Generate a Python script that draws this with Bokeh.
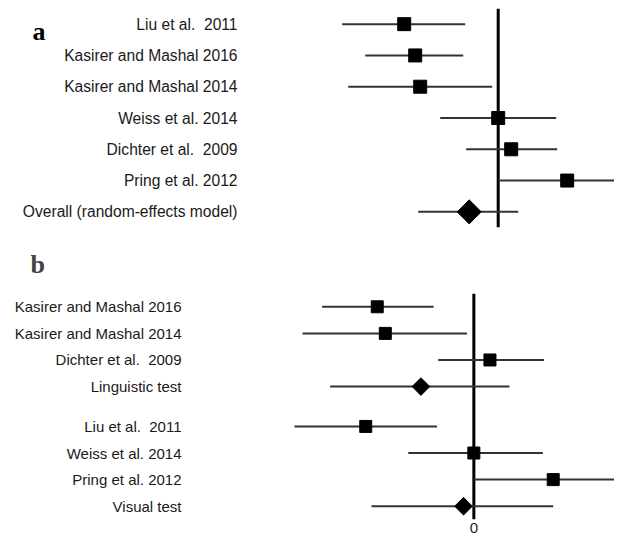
import math
from bokeh.plotting import figure
from bokeh.models import FactorRange, Span, FixedTicker, ColumnDataSource
from bokeh.layouts import column
from bokeh.core.properties import value
from bokeh.embed import file_html
from bokeh.resources import INLINE

NB = "\u00a0 "  # double space that survives SVG whitespace collapsing

# ---------------- data: panel a ----------------
studies_a = ["Liu et al." + NB + "2011", "Kasirer and Mashal 2016", "Kasirer and Mashal 2014",
             "Weiss et al. 2014", "Dichter et al." + NB + "2009", "Pring et al. 2012"]
est_a = [-0.94, -0.83, -0.78, 0.00, 0.13, 0.69]
lo_a = [-1.56, -1.33, -1.50, -0.58, -0.32, 0.00]
hi_a = [-0.33, -0.35, -0.06, 0.58, 0.59, 1.45]
overall_label_a = "Overall (random-effects model)"
overall_a = [-0.29, -0.80, 0.20]  # estimate, lower, upper

# ---------------- data: panel b ----------------
ling_studies = ["Kasirer and Mashal 2016", "Kasirer and Mashal 2014", "Dichter et al." + NB + "2009"]
ling_est = [-0.84, -0.77, 0.14]
ling_lo = [-1.32, -1.49, -0.31]
ling_hi = [-0.35, -0.06, 0.61]
ling_label = "Linguistic test"
ling_summary = [-0.46, -1.25, 0.31]

vis_studies = ["Liu et al." + NB + "2011", "Weiss et al. 2014", "Pring et al. 2012"]
vis_est = [-0.94, 0.00, 0.69]
vis_lo = [-1.56, -0.57, 0.00]
vis_hi = [-0.32, 0.60, 1.45]
vis_label = "Visual test"
vis_summary = [-0.09, -0.89, 0.69]

x_ticks_b = [0]

LABEL_FONT = "Liberation Sans"
LETTER_FONT = "Liberation Serif"
BAR_COLOR = "#333333"

# ================= panel a =================
rows_a = studies_a + [overall_label_a]
pa = figure(width=614, height=229, x_range=(-4.977, 1.163),
            y_range=FactorRange(factors=list(reversed(rows_a))),
            x_axis_type=None, y_axis_type=None,
            output_backend="svg", toolbar_location=None,
            min_border_left=0, min_border_right=0, min_border_top=8, min_border_bottom=2)
pa.outline_line_color = None

zero_a = Span(location=0, dimension="height", line_color="black", line_width=3, level="underlay")
pa.add_layout(zero_a)

src_a = ColumnDataSource(dict(y=studies_a, est=est_a, lo=lo_a, hi=hi_a))
pa.segment(x0="lo", x1="hi", y0="y", y1="y", source=src_a, line_color=BAR_COLOR, line_width=2)
pa.scatter(x="est", y="y", source=src_a, marker="square", size=13, color="black")

src_oa = ColumnDataSource(dict(y=[overall_label_a], est=[overall_a[0]], lo=[overall_a[1]], hi=[overall_a[2]]))
pa.segment(x0="lo", x1="hi", y0="y", y1="y", source=src_oa, line_color=BAR_COLOR, line_width=2)
pa.scatter(x="est", y="y", source=src_oa, marker="square", angle=math.pi / 4, size=17, color="black")

LABEL_X_A = -2.607
pa.text(x=[LABEL_X_A] * len(rows_a), y=rows_a, text=rows_a, text_align="right",
        text_baseline="middle", text_font=value(LABEL_FONT), text_font_size="15.6px",
        text_color="#1a1a1a")
pa.text(x=[-4.657], y=[rows_a[0]], text=["a"], text_align="left", text_baseline="alphabetic",
        y_offset=7, text_font=value(LETTER_FONT), text_font_style="bold",
        text_font_size="26px", text_color="black")

# ================= panel b =================
rows_b = ([("L", s) for s in ling_studies] + [("L", ling_label)] +
          [("V", s) for s in vis_studies] + [("V", vis_label)])
pb = figure(width=614, height=310, x_range=(-4.116, 1.223),
            y_range=FactorRange(factors=list(reversed(rows_b)), group_padding=0.5),
            y_axis_type=None, title="b",
            output_backend="svg", toolbar_location=None,
            min_border_left=0, min_border_right=0, min_border_top=64, min_border_bottom=20)
pb.outline_line_color = None
pb.xgrid.visible = False
pb.title.text_font = LETTER_FONT
pb.title.text_font_style = "bold"
pb.title.text_font_size = "26px"
pb.title.align = "left"
pb.title.offset = 30
pb.title.standoff = 30

xa = pb.xaxis[0]
xa.ticker = FixedTicker(ticks=x_ticks_b)
xa.axis_line_color = None
xa.major_tick_line_color = None
xa.minor_tick_line_color = None
xa.major_tick_out = 0
xa.major_tick_in = 0
xa.major_label_standoff = 3
xa.major_label_text_font = LABEL_FONT
xa.major_label_text_font_size = "15px"
xa.major_label_text_color = "#1a1a1a"

zero_b = Span(location=0, dimension="height", line_color="black", line_width=3, level="underlay")
pb.add_layout(zero_b)

src_b = ColumnDataSource(dict(
    y=[("L", s) for s in ling_studies] + [("V", s) for s in vis_studies],
    est=ling_est + vis_est, lo=ling_lo + vis_lo, hi=ling_hi + vis_hi))
pb.segment(x0="lo", x1="hi", y0="y", y1="y", source=src_b, line_color=BAR_COLOR, line_width=2)
pb.scatter(x="est", y="y", source=src_b, marker="square", size=12, color="black")

src_sb = ColumnDataSource(dict(
    y=[("L", ling_label), ("V", vis_label)],
    est=[ling_summary[0], vis_summary[0]],
    lo=[ling_summary[1], vis_summary[1]],
    hi=[ling_summary[2], vis_summary[2]]))
pb.segment(x0="lo", x1="hi", y0="y", y1="y", source=src_sb, line_color=BAR_COLOR, line_width=2)
pb.scatter(x="est", y="y", source=src_sb, marker="square", angle=math.pi / 4, size=12.5, color="black")

LABEL_X_B = -2.542
pb.text(x=[LABEL_X_B] * len(rows_b), y=rows_b, text=[r[1] for r in rows_b], text_align="right",
        text_baseline="middle", text_font=value(LABEL_FONT), text_font_size="15px",
        text_color="#1a1a1a")

layout = column(pa, pb)
open("out.html", "w").write(file_html(layout, INLINE))
